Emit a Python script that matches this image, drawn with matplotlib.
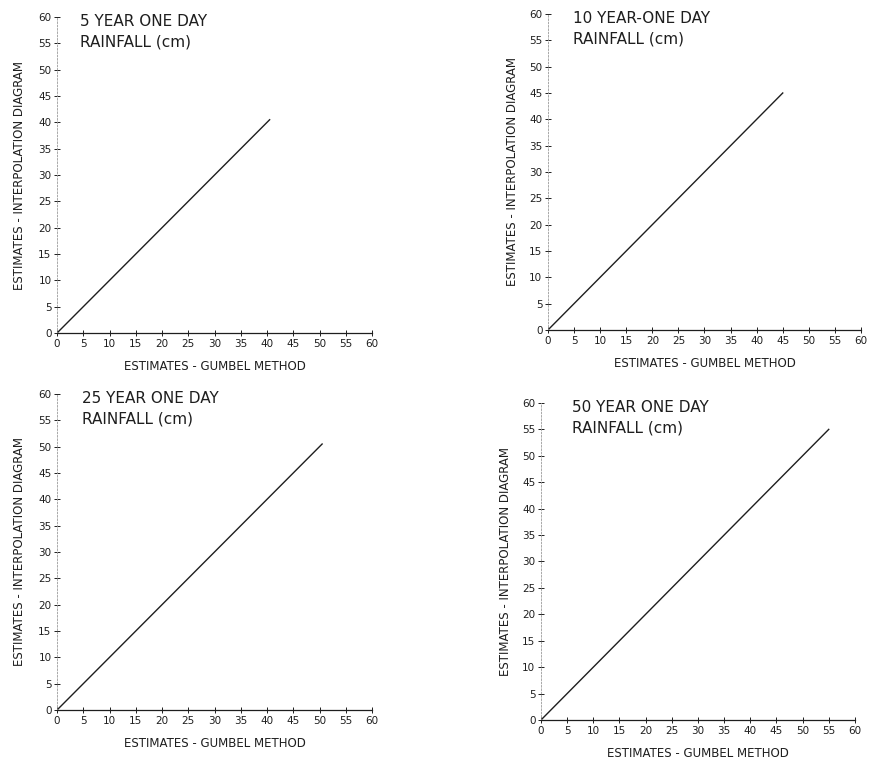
import numpy as np
import matplotlib
matplotlib.use("Agg")
import matplotlib.pyplot as plt

# return periods and the end point of each 1:1 comparison line (cm)
titles = ["5 YEAR ONE DAY\nRAINFALL (cm)",
          "10 YEAR-ONE DAY\nRAINFALL (cm)",
          "25 YEAR ONE DAY\nRAINFALL (cm)",
          "50 YEAR ONE DAY\nRAINFALL (cm)"]
gumbel = [[0, 40.5], [0, 45], [0, 50.5], [0, 55]]
interp = [[0, 40.5], [0, 45], [0, 50.5], [0, 55]]
ticks = np.arange(0, 61, 5)
xlabel = "ESTIMATES - GUMBEL METHOD"
ylabel = "ESTIMATES - INTERPOLATION DIAGRAM"

ink = "#1e1e1e"
plt.rcParams["font.family"] = ["DejaVu Sans"]

fig = plt.figure(figsize=(8.72, 7.61), dpi=100)
boxes = [[0.0654, 0.5624, 0.3612, 0.4152],
         [0.6284, 0.5664, 0.3590, 0.4152],
         [0.0654, 0.0670, 0.3612, 0.4153],
         [0.6204, 0.0539, 0.3600, 0.4166]]
title_x = [4.4, 4.8, 4.8, 5.9]
ylpad = [9, 7, 9, 7]

for i in range(4):
    ax = fig.add_axes(boxes[i])
    ax.plot(gumbel[i], interp[i], color=ink, lw=1.0)
    ax.set_xlim(0, 60)
    ax.set_ylim(0, 60)
    ax.set_xticks(ticks)
    ax.set_yticks(ticks)
    ax.tick_params(direction="inout", length=4, width=0.7, colors=ink,
                   labelsize=7.5, pad=2)
    for s in ["top", "right"]:
        ax.spines[s].set_visible(False)
    ax.spines["bottom"].set_color(ink)
    ax.spines["bottom"].set_linewidth(0.9)
    ax.spines["left"].set_color("#9a9a9a")
    ax.spines["left"].set_linewidth(0.6)
    ax.spines["left"].set_linestyle((0, (2, 2)))
    ax.text(title_x[i], 60.5, titles[i], va="top", ha="left", fontsize=11,
            color=ink, linespacing=1.45)
    ax.set_xlabel(xlabel, fontsize=8.5, color=ink, labelpad=8)
    ax.set_ylabel(ylabel, fontsize=8.5, color=ink, labelpad=ylpad[i])

fig.savefig("out.png", dpi=100, facecolor="white")
